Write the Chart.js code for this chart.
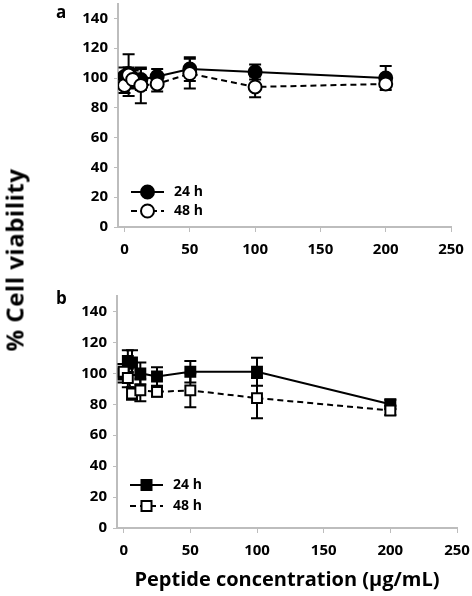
<!DOCTYPE html>
<html>
<head>
<meta charset="utf-8">
<script src="https://cdn.jsdelivr.net/npm/chart.js@4"></script>
<style>
  html, body { margin: 0; padding: 0; background: #fff; }
  #wrap { position: relative; width: 472px; height: 596px; font-family: "Open Sans", sans-serif; overflow: hidden; }
  #boxA { position: absolute; left: 0; top: -5px; width: 472px; height: 267px; }
  #boxB { position: absolute; left: 0; top: 262px; width: 472px; height: 334px; }
  .panel { position: absolute; font-weight: bold; font-size: 17px; color: #000; }
  #ytitle {
    position: absolute; left: 14px; top: 260px; white-space: nowrap;
    transform: translate(-50%, -50%) rotate(-90deg);
    font-weight: bold; font-size: 24px; letter-spacing: 0.5px; color: #000;
  }
</style>
</head>
<body>
<div id="wrap">
  <div id="boxA"><canvas id="chartA"></canvas></div>
  <div id="boxB"><canvas id="chartB"></canvas></div>
  <div class="panel" style="left:56px; top:0px;">a</div>
  <div class="panel" style="left:56px; top:286px;">b</div>
  <div id="ytitle">% Cell viability</div>
</div>
<script>
// -------- datos ----------
const conc = [0, 3.125, 6.25, 12.5, 25, 50, 100, 200];
const xTicks = [0, 50, 100, 150, 200, 250];
const yTicks = [0, 20, 40, 60, 80, 100, 120, 140];
const seriesNames = ["24 h", "48 h"];

// panel a (círculos)
const a24 = [101, 103, 100, 99, 101, 106, 104, 100];
const a24Err = [6, 4, 6, 7, 5, 8, 5, 8];
const a48 = [95, 102, 99, 95, 96, 103, 94, 96];
const a48Err = [5, 14, 6, 12, 5, 10, 7, 2];

// panel b (cuadrados)
const b24 = [100, 108, 107, 100, 98, 101, 101, 80];
const b24Err = [6, 7, 8, 7, 6, 7, 9, 3];
const b48 = [101, 97, 87, 89, 88, 89, 84, 76];
const b48Err = [5, 6, 4, 7, 3, 11, 13, 3];

const FONT = "'Open Sans', sans-serif";
const AXIS_GREY = "#bdbdbd";

const pts = (vals) => conc.map((c, i) => ({ x: c, y: vals[i] }));

// -------- plugins ----------
const errorBars = {
  id: "errorBars",
  beforeDatasetsDraw(chart) {
    const { ctx, scales: { x, y } } = chart;
    ctx.save();
    ctx.strokeStyle = "#000";
    ctx.lineWidth = 2;
    chart.data.datasets.forEach((ds) => {
      ds.data.forEach((p, i) => {
        const e = ds.errors[i];
        const px = x.getPixelForValue(p.x);
        const top = y.getPixelForValue(p.y + e);
        const bot = y.getPixelForValue(p.y - e);
        ctx.beginPath();
        ctx.moveTo(px, top); ctx.lineTo(px, bot);
        ctx.moveTo(px - 6, top); ctx.lineTo(px + 6, top);
        ctx.moveTo(px - 6, bot); ctx.lineTo(px + 6, bot);
        ctx.stroke();
      });
    });
    ctx.restore();
  }
};

function drawMarker(ctx, style, cx, cy, fill) {
  ctx.beginPath();
  if (style === "rect") ctx.rect(cx - 5, cy - 5, 10, 10);
  else ctx.arc(cx, cy, 6.5, 0, Math.PI * 2);
  ctx.fillStyle = fill;
  ctx.fill();
  ctx.stroke();
}

const insideLegend = {
  id: "insideLegend",
  afterDatasetsDraw(chart, args, opts) {
    const { ctx, chartArea } = chart;
    const x0 = chartArea.left + 13, x1 = chartArea.left + 46, xm = (x0 + x1) / 2;
    ctx.save();
    chart.data.datasets.forEach((ds, i) => {
      const yy = chartArea.bottom - opts.offsets[i];
      ctx.strokeStyle = "#000";
      ctx.lineWidth = 2;
      ctx.setLineDash(ds.borderDash || []);
      ctx.beginPath();
      ctx.moveTo(x0, yy); ctx.lineTo(x1, yy);
      ctx.stroke();
      ctx.setLineDash([]);
      drawMarker(ctx, ds.pointStyle, xm, yy, ds.pointBackgroundColor);
      ctx.fillStyle = "#000";
      ctx.font = `bold 14px ${FONT}`;
      ctx.textBaseline = "middle";
      ctx.fillText(ds.label, x1 + 10, yy);
    });
    ctx.restore();
  }
};

// -------- charts ----------
function buildPanel(canvasId, style, v24, e24, v48, e48, cfg) {
  const common = {
    borderColor: "#000", borderWidth: 2, pointStyle: style,
    pointRadius: style === "rect" ? 7 : 6.5, pointBorderColor: "#000", pointBorderWidth: 2
  };
  return new Chart(document.getElementById(canvasId), {
    type: "line",
    data: {
      datasets: [
        { ...common, label: seriesNames[0], data: pts(v24), errors: e24,
          pointBackgroundColor: "#000", order: 2 },
        { ...common, label: seriesNames[1], data: pts(v48), errors: e48,
          pointBackgroundColor: "#fff", borderDash: [6, 4], order: 1 }
      ]
    },
    options: {
      responsive: true,
      maintainAspectRatio: false,
      animation: false,
      layout: { padding: cfg.padding },
      plugins: {
        legend: { display: false },
        tooltip: { enabled: false },
        insideLegend: { offsets: cfg.legendOffsets }
      },
      scales: {
        x: {
          type: "linear", min: -5, max: 250,
          afterBuildTicks: (s) => { s.ticks = xTicks.map((v) => ({ value: v })); },
          afterFit: (s) => { s.height = cfg.xHeight; s.paddingLeft = 0; s.paddingRight = 0; },
          grid: { drawOnChartArea: false, color: AXIS_GREY, tickLength: 5 },
          border: { color: AXIS_GREY, width: 2 },
          ticks: { color: "#000", font: { family: FONT, size: 15, weight: "bold" },
                   padding: cfg.xPad, maxRotation: 0 },
          title: {
            display: cfg.showTitle, text: "Peptide concentration (\u03bcg/mL)", color: "#000",
            font: { family: FONT, size: 20, weight: "bold" }, padding: { top: 6 }
          }
        },
        y: {
          type: "linear", min: 0, max: 150,
          afterBuildTicks: (s) => { s.ticks = yTicks.map((v) => ({ value: v })); },
          afterFit: (s) => { s.width = cfg.yWidth; s.paddingTop = 0; s.paddingBottom = 0; },
          grid: { drawOnChartArea: false, color: AXIS_GREY, tickLength: 4 },
          border: { color: AXIS_GREY, width: 2 },
          ticks: { color: "#000", font: { family: FONT, size: 15, weight: "bold" }, padding: 6 }
        }
      }
    },
    plugins: [errorBars, insideLegend]
  });
}

buildPanel("chartA", "circle", a24, a24Err, a48, a48Err, {
  padding: { left: 0, right: 21, top: 2, bottom: 0 },
  xHeight: 35, yWidth: 118, xPad: 9, showTitle: false, legendOffsets: [35, 16]
});

buildPanel("chartB", "rect", b24, b24Err, b48, b48Err, {
  padding: { left: 0, right: 15, top: 34, bottom: 0 },
  xHeight: 68, yWidth: 117, xPad: 9, showTitle: true, legendOffsets: [43, 22]
});
</script>
</body>
</html>
